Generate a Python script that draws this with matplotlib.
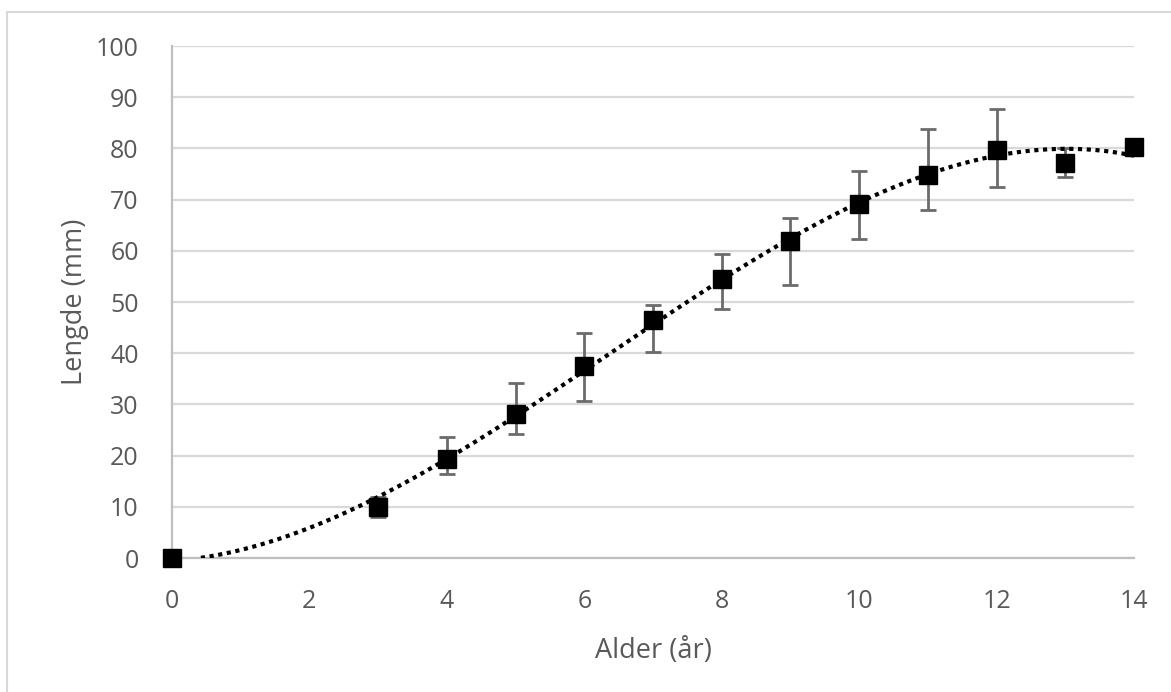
import matplotlib.pyplot as plt
import numpy as np
from matplotlib.patches import Rectangle

# Data
age = [0, 3, 4, 5, 6, 7, 8, 9, 10, 11, 12, 13, 14]
length = [0, 10.0, 19.3, 28.1, 37.5, 46.5, 54.5, 62.0, 69.1, 74.8, 79.6, 77.2, 80.2]
err_low = [0, 2.0, 2.9, 3.9, 6.8, 6.3, 5.9, 8.7, 6.8, 6.8, 7.2, 2.7, 0]
err_high = [0, 2.0, 4.3, 6.1, 6.4, 2.9, 4.9, 4.5, 6.5, 9.0, 8.0, 2.8, 0]

grey_text = "#595959"
grid_col = "#d9d9d9"

plt.rcParams["font.family"] = ["Open Sans", "DejaVu Sans"]

fig = plt.figure(figsize=(11.71, 6.92), dpi=100)
ax = fig.add_axes([172 / 1171, 1 - 558 / 692, (1134 - 172) / 1171, (558 - 46) / 692])

# chart border (Excel chart area)
fig.patches.append(Rectangle((7 / 1171, -0.1), 1.2, 1 - 12 / 692 + 0.1,
                             transform=fig.transFigure, fill=False,
                             edgecolor=grid_col, linewidth=1.5))

# error bars + markers
ax.errorbar(age, length, yerr=[err_low, err_high], fmt="none",
            ecolor="#6b6b6b", elinewidth=2, capsize=6, capthick=2, zorder=3)
ax.plot(age, length, "s", color="black", markersize=12.5, zorder=5, clip_on=False)

# polynomial trendline (3rd order, like Excel)
coef = np.polyfit(age, length, 3)
xs = np.linspace(0, 14, 400)
ys = np.polyval(coef, xs)
ys = np.where(ys >= 0, ys, np.nan)
ax.plot(xs, ys, color="black", linewidth=3, linestyle=(0, (1, 1.1)), zorder=4)

ax.set_xlim(0, 14)
ax.set_ylim(0, 100)
ax.set_xticks(range(0, 15, 2))
ax.set_yticks(range(0, 101, 10))
ax.grid(axis="y", color=grid_col, linewidth=1.6)
ax.set_axisbelow(True)

for side in ["top", "right"]:
    ax.spines[side].set_visible(False)
ax.spines["left"].set_color("#bfbfbf")
ax.spines["left"].set_linewidth(1.6)
ax.spines["bottom"].set_color("#bfbfbf")
ax.spines["bottom"].set_linewidth(1.6)

ax.tick_params(length=0, labelsize=18, labelcolor=grey_text)
ax.tick_params(axis="y", pad=24)
ax.tick_params(axis="x", pad=22)

ax.set_xlabel("Alder (år)", fontsize=19.5, color=grey_text, labelpad=17)
ax.set_ylabel("Lengde (mm)", fontsize=19.5, color=grey_text, labelpad=5)

fig.savefig("out.png", dpi=100)
